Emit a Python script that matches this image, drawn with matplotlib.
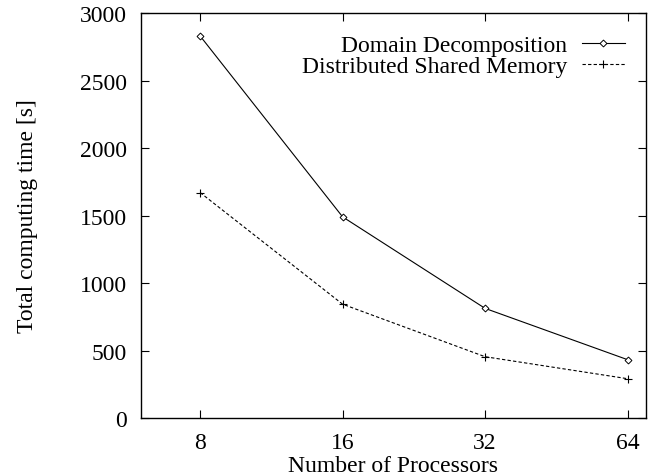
import matplotlib.pyplot as plt
import numpy as np

plt.rcParams['font.family'] = ['Liberation Serif', 'DejaVu Serif']
plt.rcParams['font.size'] = 17

procs = [8, 16, 32, 64]
domain_decomp = [2830, 1490, 812, 432]
dist_shared = [1670, 843, 454, 291]

fig = plt.figure(figsize=(6.61, 4.77), dpi=100)
ax = fig.add_axes([0.2133, 0.1216, 0.764, 0.849])

ax.plot(procs, domain_decomp, "k-", lw=0.8, marker="D", ms=3.5, mfc="white", mew=0.7,
        label="Domain Decomposition")
ax.plot(procs, dist_shared, "k--", lw=0.8, dashes=(3, 2), marker="+", ms=6, mew=0.8,
        label="Distributed Shared Memory")

ax.set_xscale("log", base=2)
ax.set_xlim(6, 70)
ax.set_ylim(0, 3000)
ax.set_xticks(procs)
ax.set_xticklabels([str(p) for p in procs])
ax.minorticks_off()
ax.set_yticks(np.arange(0, 3001, 500))
ax.tick_params(direction="in", top=True, right=True, length=6, width=0.8, pad=10)
for s in ax.spines.values():
    s.set_linewidth(1.0)

ax.set_xlabel("Number of Processors", labelpad=1.5)
ax.set_ylabel("Total computing time [s]", labelpad=30)

ax.legend(loc="upper right", frameon=False, markerfirst=False, handlelength=1.8,
          borderaxespad=0.5, labelspacing=0.0, handletextpad=0.65)

plt.savefig("out.png")
